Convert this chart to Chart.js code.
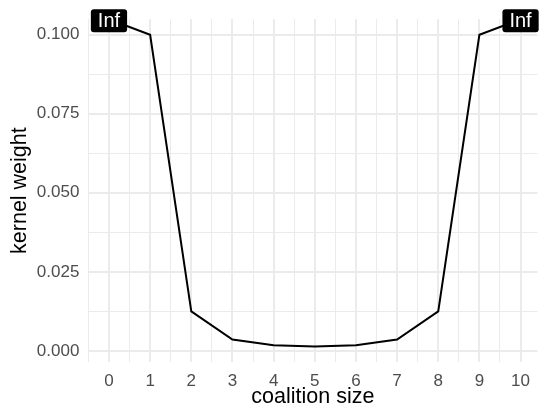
<!DOCTYPE html>
<html>
<head>
<meta charset="utf-8">
<script src="https://cdn.jsdelivr.net/npm/chart.js"></script>
<style>
  html, body { margin: 0; padding: 0; background: #fff; }
  #wrap { width: 539px; height: 410px; }
</style>
</head>
<body>
<div id="wrap"><canvas id="kernelChart" width="539" height="410"></canvas></div>
<script>
// data
const coalitionSizes = [0, 1, 2, 3, 4, 5, 6, 7, 8, 9, 10];
const kernelWeights = [Infinity, 0.1, 0.0125, 0.0036, 0.0018, 0.0014, 0.0018, 0.0036, 0.0125, 0.1, Infinity];
const xTickValues = [0, 1, 2, 3, 4, 5, 6, 7, 8, 9, 10];
const yTickValues = [0, 0.025, 0.05, 0.075, 0.1];
const yTickLabels = ['0.000', '0.025', '0.050', '0.075', '0.100'];

const FONT = '"Liberation Sans", Arial, Helvetica, sans-serif';
const GRID = '#ebebeb';

// ggplot-like 5% expansion over the finite values
const finite = kernelWeights.filter(v => isFinite(v));
const yLo = Math.min(...finite), yHi = Math.max(...finite);
const yPad = (yHi - yLo) * 0.05;
const Y_MIN = yLo - yPad, Y_MAX = yHi + yPad;

// infinite weights sit on the panel edge, like ggplot does
const plotted = kernelWeights.map(v => isFinite(v) ? v : Y_MAX);

function isMajor(list, v) {
    return list.some(t => Math.abs(t - v) < 1e-9);
}

const infLabels = {
    id: 'infLabels',
    afterDatasetsDraw(chart) {
        const ctx = chart.ctx;
        const xs = chart.scales.x, ys = chart.scales.y;
        ctx.save();
        ctx.font = '20px ' + FONT;
        ctx.textAlign = 'center';
        ctx.textBaseline = 'middle';
        kernelWeights.forEach((w, i) => {
            if (isFinite(w)) return;
            const cx = xs.getPixelForValue(coalitionSizes[i]);
            const cy = ys.getPixelForValue(Y_MAX) + 1.5;
            const tw = ctx.measureText('Inf').width;
            const bw = tw + 14, bh = 23;
            ctx.fillStyle = '#000';
            ctx.beginPath();
            ctx.roundRect(cx - bw / 2, cy - bh / 2, bw, bh, 3);
            ctx.fill();
            ctx.fillStyle = '#fff';
            ctx.fillText('Inf', cx, cy + 1);
        });
        ctx.restore();
    }
};

new Chart(document.getElementById('kernelChart'), {
    type: 'line',
    data: {
        datasets: [{
            data: coalitionSizes.map((x, i) => ({ x: x, y: plotted[i] })),
            borderColor: '#000',
            borderWidth: 2,
            pointRadius: 0,
            tension: 0,
            fill: false,
            clip: false
        }]
    },
    options: {
        responsive: false,
        animation: false,
        layout: { padding: { top: 19, right: 0, left: 0, bottom: 0 } },
        plugins: { legend: { display: false }, tooltip: { enabled: false } },
        scales: {
            x: {
                type: 'linear',
                min: -0.5,
                max: 10.41,
                afterBuildTicks(scale) {
                    const t = [];
                    for (let v = -0.5; v <= 10.0001; v += 0.5) t.push({ value: v });
                    scale.ticks = t;
                },
                afterFit(scale) { scale.height = 48; },
                border: { display: false },
                grid: {
                    drawTicks: false,
                    color: GRID,
                    lineWidth: c => isMajor(xTickValues, c.tick.value) ? 2 : 1
                },
                ticks: {
                    autoSkip: false,
                    maxRotation: 0,
                    padding: 9,
                    color: '#4d4d4d',
                    font: { family: FONT, size: 17 },
                    callback: v => isMajor(xTickValues, v) ? String(Math.round(v)) : ''
                },
                title: {
                    display: true,
                    text: 'coalition size',
                    color: '#000',
                    font: { family: FONT, size: 21.5 },
                    padding: { top: 0, bottom: 0 }
                }
            },
            y: {
                type: 'linear',
                min: Y_MIN,
                max: Y_MAX,
                afterBuildTicks(scale) {
                    const t = [];
                    for (let k = 0; k <= 8; k++) t.push({ value: k * 0.0125 });
                    scale.ticks = t;
                },
                afterFit(scale) { scale.width = 88.4; },
                border: { display: false },
                grid: {
                    drawTicks: false,
                    color: GRID,
                    lineWidth: c => isMajor(yTickValues, c.tick.value) ? 2 : 1
                },
                ticks: {
                    autoSkip: false,
                    padding: 9,
                    color: '#4d4d4d',
                    font: { family: FONT, size: 17 },
                    callback: v => {
                        const i = yTickValues.findIndex(t => Math.abs(t - v) < 1e-9);
                        return i >= 0 ? yTickLabels[i] : '';
                    }
                },
                title: {
                    display: true,
                    text: 'kernel weight',
                    color: '#000',
                    font: { family: FONT, size: 21.5 },
                    padding: { top: 7, bottom: 0 }
                }
            }
        }
    },
    plugins: [infLabels]
});
</script>
</body>
</html>
